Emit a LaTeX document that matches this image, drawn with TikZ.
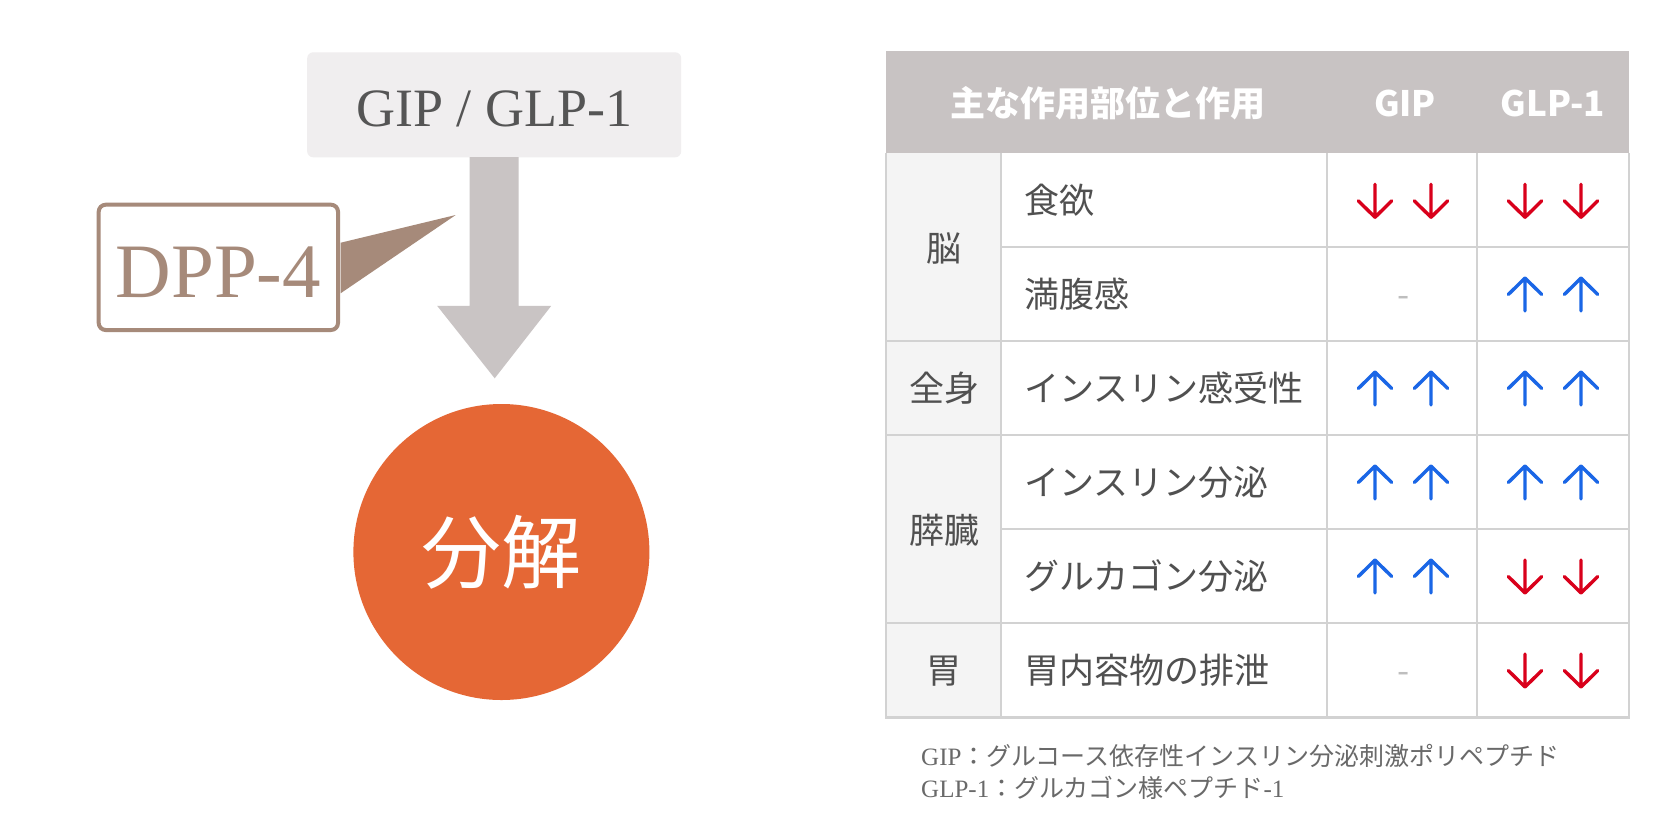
\documentclass[tikz,border=0pt]{standalone}
\usepackage{fontspec}
\setmainfont{Liberation Serif}
\newfontfamily\cjk{Noto Sans CJK JP}
\usetikzlibrary{calc}
\definecolor{boxgray}{RGB}{240,238,239}
\definecolor{arrowgray}{RGB}{201,196,196}
\definecolor{txtgray}{RGB}{85,85,85}
\definecolor{dppbrown}{RGB}{166,138,122}
\definecolor{orangec}{RGB}{229,103,53}
\definecolor{headgray}{RGB}{200,195,195}
\definecolor{colgray}{RGB}{244,244,244}
\definecolor{gridgray}{RGB}{210,210,210}
\definecolor{celltxt}{RGB}{80,80,80}
\definecolor{upblue}{RGB}{26,102,230}
\definecolor{downred}{RGB}{217,0,27}
\definecolor{foottxt}{RGB}{105,105,105}
\definecolor{dashgray}{RGB}{190,190,190}
\tikzset{
  gipbox/.style={fill=boxgray, rounded corners=6pt, minimum width=374pt, minimum height=105pt,
    inner sep=0pt, text=txtgray, font=\fontsize{54}{60}\selectfont, text height=42.4pt, text depth=0pt},
  dppbox/.style={draw=dppbrown, line width=4pt, fill=white, rounded corners=7pt, minimum width=239.3pt,
    minimum height=125.3pt, inner sep=0pt, text=dppbrown, font=\fontsize{77}{80}\selectfont,
    text height=60pt, text depth=0pt},
  callout/.style={fill=dppbrown},
  bigarrow/.style={fill=arrowgray},
  decomp/.style={circle, fill=orangec, minimum size=296pt, inner sep=0pt, text=white,
    font=\cjk\fontsize{80}{90}\selectfont, text height=70.4pt, text depth=9.6pt},
  headtxt/.style={text=white, font=\cjk\bfseries\fontsize{35}{40}\selectfont, anchor=base, inner sep=0pt},
  celltext/.style={text=celltxt, font=\cjk\fontsize{35}{40}\selectfont, inner sep=0pt,
    text height=30.8pt, text depth=4.2pt},
  rowtext/.style={celltext, anchor=west},
  dashtext/.style={celltext, text=dashgray},
  grid/.style={draw=gridgray, line width=2.5pt},
  foot/.style={text=foottxt, font=\fontsize{25}{30}\selectfont, anchor=base west, inner sep=0pt},
  uparr/.pic={\draw[upblue, line width=3.4pt, line cap=round, line join=round]
      (0,16.5) -- (0,-16.5) (-16.7,0) -- (0,-16.5) -- (16.7,0);},
  downarr/.pic={\draw[downred, line width=3.4pt, line cap=round, line join=round]
      (0,-16.5) -- (0,16.5) (-16.7,0) -- (0,16.5) -- (16.7,0);}
}
\begin{document}
\begin{tikzpicture}[x=1pt,y=-1pt]
\useasboundingbox (0,0) rectangle (1680,812);
\fill[white] (0,0) rectangle (1680,812);

% ---------- left diagram ----------
\node[gipbox] (gip) at (494.2,104.8) {GIP / GLP-1};
\node[decomp] (dec) at (501.4,552) {分解};
\coordinate (atip) at (494.7,378.3);
\fill[bigarrow] ($(gip.south)+(-24.5,-0.5)$) -- ($(gip.south)+(24.5,-0.5)$)
  -- ($(gip.south)+(24.5,148.4)$) -- ($(gip.south)+(57,148.4)$) -- (atip)
  -- ($(gip.south)+(-57,148.4)$) -- ($(gip.south)+(-24.5,148.4)$) -- cycle;

\coordinate (ctip) at (455.7,215);
\node[dppbox] (dpp) at (218.35,267.35) {DPP-4};
\fill[callout] ($(dpp.east)+(0.5,-24.6)$) -- (ctip) -- ($(dpp.east)+(0.5,26)$) -- cycle;

% ---------- table ----------
\fill[headgray] (886,50.5) rectangle (1629,153);
\fill[colgray] (886,153) rectangle (1001,717.5);
\draw[grid] (886,153) -- (886,717.5) -- (1629,717.5) -- (1629,153);
\draw[grid] (1001,153) -- (1001,717.5);
\draw[grid] (1327,153) -- (1327,717.5);
\draw[grid] (1477,153) -- (1477,717.5);
\draw[grid] (1001,247) -- (1629,247);
\draw[grid] (886,341) -- (1629,341);
\draw[grid] (886,435) -- (1629,435);
\draw[grid] (1001,529) -- (1629,529);
\draw[grid] (886,623) -- (1629,623);

\node[headtxt] (h1) at (1107.5,116.5) {主な作用部位と作用};
\node[headtxt] (h2) at (1405,116.5) {GIP};
\node[headtxt] (h3) at (1553,116.5) {GLP-1};

\node[celltext] (s1) at (944,248) {脳};
\node[celltext] (s2) at (944,388) {全身};
\node[celltext] (s3) at (944,530) {膵臓};
\node[celltext] (s4) at (944,670) {胃};

\node[rowtext] (e1) at (1024,200.5) {食欲};
\node[rowtext] (e2) at (1024,294) {満腹感};
\node[rowtext] (e3) at (1024,388) {インスリン感受性};
\node[rowtext] (e4) at (1024,482) {インスリン分泌};
\node[rowtext] (e5) at (1024,576) {グルカゴン分泌};
\node[rowtext] (e6) at (1024,670) {胃内容物の排泄};

% row 1
\pic at (1375,200.8) {downarr}; \pic at (1431,200.8) {downarr};
\pic at (1525,200.8) {downarr}; \pic at (1581,200.8) {downarr};
% row 2
\node[dashtext] (d1) at (1403.5,294) {-};
\pic at (1525,294.5) {uparr}; \pic at (1581,294.5) {uparr};
% row 3
\pic at (1375,388.5) {uparr}; \pic at (1431,388.5) {uparr};
\pic at (1525,388.5) {uparr}; \pic at (1581,388.5) {uparr};
% row 4
\pic at (1375,482.5) {uparr}; \pic at (1431,482.5) {uparr};
\pic at (1525,482.5) {uparr}; \pic at (1581,482.5) {uparr};
% row 5
\pic at (1375,576.5) {uparr}; \pic at (1431,576.5) {uparr};
\pic at (1525,576.5) {downarr}; \pic at (1581,576.5) {downarr};
% row 6
\node[dashtext] (d2) at (1403.5,670) {-};
\pic at (1525,670.5) {downarr}; \pic at (1581,670.5) {downarr};

% ---------- footnote ----------
\node[foot] (f1) at (921,765.7) {GIP{\cjk ：グルコース依存性インスリン分泌刺激ポリペプチド}};
\node[foot] (f2) at (921,797.3) {GLP-1{\cjk ：グルカゴン様ペプチド}-1};
\end{tikzpicture}
\end{document}
